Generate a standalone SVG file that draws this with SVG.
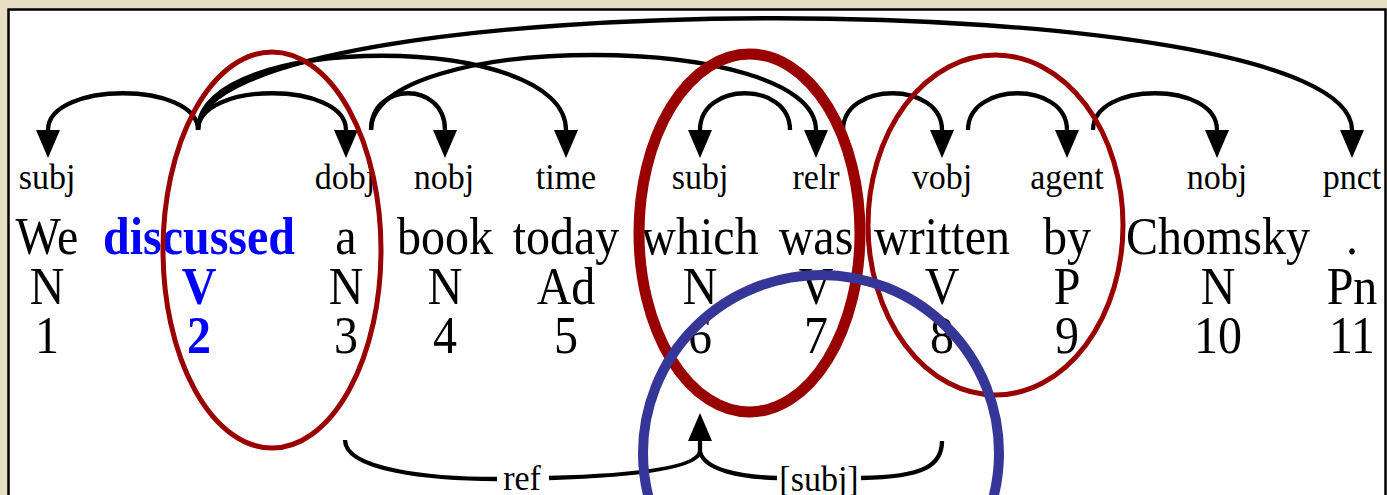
<svg xmlns="http://www.w3.org/2000/svg" width="1387" height="495" viewBox="0 0 1387 495">
  <style>
    .word { font-family: "Liberation Serif", "Times New Roman", serif; font-size: 48px; fill: #000; text-anchor: middle; }
    .head { font-weight: bold; fill: #0000ff; }
    .lbl { font-family: "Liberation Serif", "Times New Roman", serif; font-size: 34px; fill: #000; text-anchor: middle; }
    .arc { fill: none; stroke: #000; stroke-width: 4.3; }
    .arc-dep { marker-end: url(#ah); }
    .ring { fill: none; stroke: #990000; }
    .ring-thin { stroke-width: 5; }
    .ring-thick { stroke-width: 11; }
    .ring-blue { fill: none; stroke: #363698; stroke-width: 10; }
  </style>
  <defs>
    <marker id="ah" markerUnits="userSpaceOnUse" viewBox="0 0 28 24" markerWidth="28" markerHeight="24" refX="0" refY="12" orient="auto">
      <path d="M0,0 L28,12 L0,24 z" fill="#000"/>
    </marker>
  </defs>

  <!-- parchment surround and white panel -->
  <rect x="0" y="0" width="1387" height="495" fill="#e6dfc4"/>
  <rect x="8.5" y="9.5" width="1377" height="520" fill="#ffffff" stroke="#000" stroke-width="2.5"/>

  <!-- tokens: word, part of speech, index -->
  <g id="tok1"><g transform="translate(47,254) scale(1,1.08)"><text class="word">We</text></g><g transform="translate(47,304) scale(1,1.08)"><text class="word">N</text></g><g transform="translate(47,353) scale(1,1.08)"><text class="word">1</text></g></g>
  <g id="tok2"><g transform="translate(199,254) scale(1,1.08)"><text class="word head">discussed</text></g><g transform="translate(199,304) scale(1,1.08)"><text class="word head">V</text></g><g transform="translate(199,353) scale(1,1.08)"><text class="word head">2</text></g></g>
  <g id="tok3"><g transform="translate(346,254) scale(1,1.08)"><text class="word">a</text></g><g transform="translate(346,304) scale(1,1.08)"><text class="word">N</text></g><g transform="translate(346,353) scale(1,1.08)"><text class="word">3</text></g></g>
  <g id="tok4"><g transform="translate(445,254) scale(1,1.08)"><text class="word">book</text></g><g transform="translate(445,304) scale(1,1.08)"><text class="word">N</text></g><g transform="translate(445,353) scale(1,1.08)"><text class="word">4</text></g></g>
  <g id="tok5"><g transform="translate(566,254) scale(1,1.08)"><text class="word">today</text></g><g transform="translate(566,304) scale(1,1.08)"><text class="word">Ad</text></g><g transform="translate(566,353) scale(1,1.08)"><text class="word">5</text></g></g>
  <g id="tok6"><g transform="translate(700,254) scale(1,1.08)"><text class="word">which</text></g><g transform="translate(700,304) scale(1,1.08)"><text class="word">N</text></g><g transform="translate(700,353) scale(1,1.08)"><text class="word">6</text></g></g>
  <g id="tok7"><g transform="translate(816,254) scale(1,1.08)"><text class="word">was</text></g><g transform="translate(816,304) scale(1,1.08)"><text class="word">V</text></g><g transform="translate(816,353) scale(1,1.08)"><text class="word">7</text></g></g>
  <g id="tok8"><g transform="translate(942,254) scale(1,1.08)"><text class="word">written</text></g><g transform="translate(942,304) scale(1,1.08)"><text class="word">V</text></g><g transform="translate(942,353) scale(1,1.08)"><text class="word">8</text></g></g>
  <g id="tok9"><g transform="translate(1067,254) scale(1,1.08)"><text class="word">by</text></g><g transform="translate(1067,304) scale(1,1.08)"><text class="word">P</text></g><g transform="translate(1067,353) scale(1,1.08)"><text class="word">9</text></g></g>
  <g id="tok10"><g transform="translate(1218,254) scale(1,1.08)"><text class="word">Chomsky</text></g><g transform="translate(1218,304) scale(1,1.08)"><text class="word">N</text></g><g transform="translate(1218,353) scale(1,1.08)"><text class="word">10</text></g></g>
  <g id="tok11"><g transform="translate(1352,254) scale(1,1.08)"><text class="word">.</text></g><g transform="translate(1352,304) scale(1,1.08)"><text class="word">Pn</text></g><g transform="translate(1352,353) scale(1,1.08)"><text class="word">11</text></g></g>

  <!-- dependency arcs and their relation labels -->
  <g id="connectors">
    <path class="arc arc-dep" d="M198,130 C198,81 48,81 48,130"/>
    <path class="arc arc-dep" d="M198,130 C198,81 346,81 346,130"/>
    <path class="arc arc-dep" d="M198,130 C198,31 566,31 566,130"/>
    <path class="arc arc-dep" d="M198,130 C198,-19 1352,-19 1352,130"/>
    <path class="arc arc-dep" d="M371,130 C371,81 445,81 445,130"/>
    <path class="arc arc-dep" d="M371,130 C371,30 816,30 816,130"/>
    <path class="arc arc-dep" d="M790,130 C790,81 700,81 700,130"/>
    <path class="arc arc-dep" d="M843,130 C843,81 942,81 942,130"/>
    <path class="arc arc-dep" d="M968,130 C968,81 1067,81 1067,130"/>
    <path class="arc arc-dep" d="M1093,130 C1093,81 1217,81 1217,130"/>

    <!-- secondary links below the sentence -->
    <path class="arc" d="M345,440 C345,470 430,479 497,479"/>
    <path class="arc" d="M549,478 C620,476 695,470 700,452"/>
    <path class="arc" d="M700,452 C705,470 740,477 777,478"/>
    <path class="arc" d="M861,478 C925,477 942,465 942,441"/>
    <path class="arc arc-dep" d="M700,454 V441"/>

    <g id="rel-labels">
      <g transform="translate(47,189) scale(1,1.08)"><text class="lbl">subj</text></g>
      <g transform="translate(345,189) scale(1,1.08)"><text class="lbl">dobj</text></g>
      <g transform="translate(444,189) scale(1,1.08)"><text class="lbl">nobj</text></g>
      <g transform="translate(566,189) scale(1,1.08)"><text class="lbl">time</text></g>
      <g transform="translate(700,189) scale(1,1.08)"><text class="lbl">subj</text></g>
      <g transform="translate(816,189) scale(1,1.08)"><text class="lbl">relr</text></g>
      <g transform="translate(942,189) scale(1,1.08)"><text class="lbl">vobj</text></g>
      <g transform="translate(1067,189) scale(1,1.08)"><text class="lbl">agent</text></g>
      <g transform="translate(1217,189) scale(1,1.08)"><text class="lbl">nobj</text></g>
      <g transform="translate(1352,189) scale(1,1.08)"><text class="lbl">pnct</text></g>
      <g transform="translate(522,490) scale(1,1.08)"><text class="lbl">ref</text></g>
      <g transform="translate(819,491) scale(1,1.08)"><text class="lbl">[subj]</text></g>
    </g>
  </g>

  <!-- highlight rings -->
  <g id="rings">
    <ellipse class="ring ring-thin" cx="272" cy="250" rx="109" ry="198"/>
    <ellipse class="ring ring-thick" cx="749.5" cy="233" rx="110.5" ry="179"/>
    <ellipse class="ring ring-thin" cx="995.5" cy="225" rx="127.5" ry="170"/>
    <circle class="ring-blue" cx="821" cy="453" r="178"/>
  </g>
</svg>
